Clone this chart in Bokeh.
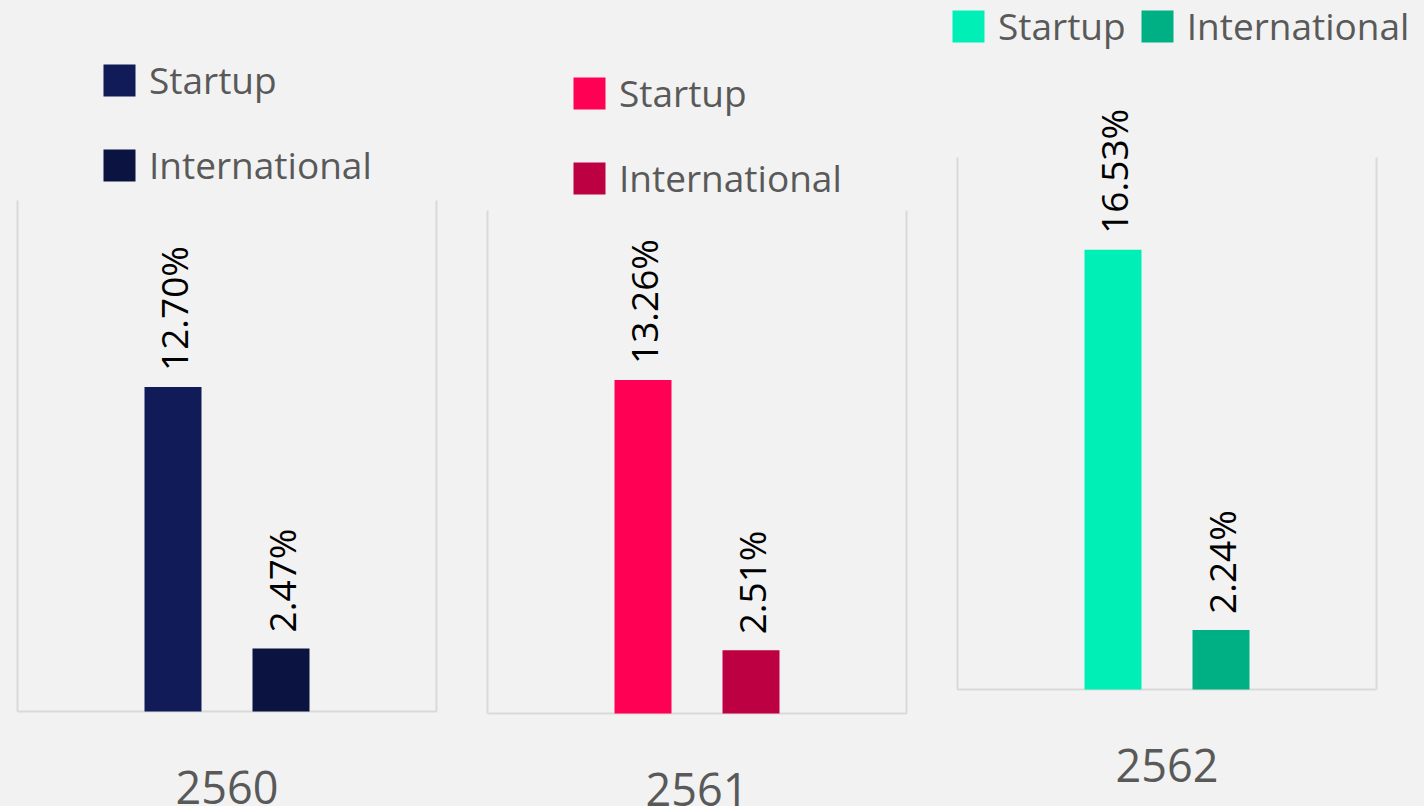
from math import pi
from bokeh.plotting import figure
from bokeh.models import ColumnDataSource, Range1d, Legend
from bokeh.core.properties import value
from bokeh.embed import file_html
from bokeh.resources import INLINE

# ---- data ----
years = ["2560", "2561", "2562"]
series = ["Startup", "International"]
startup = [12.70, 13.26, 16.53]
international = [2.47, 2.51, 2.24]
startup_colors = ["#101b57", "#ff0055", "#00efb6"]
international_colors = ["#0b1340", "#bd0041", "#00b085"]
y_max = 20  # top of each panel's value axis (%)

# ---- styling / layout (pixels) ----
BG = "#f2f2f2"
FRAME = "#d9d9d9"
FONT = "Open Sans"
W, H = 1424, 806
PAGE_X0, PAGE_Y0 = 0, 0
panel_pitch = 470                 # px between panel frames
frame_left0 = 17                  # page x of first frame's left edge
frame_w = 419
zero_y = [711, 713, 689]          # page y of each panel's baseline
frame_top = [200, 210, 157]       # page y of each panel's top (= y_max)
bar_frac = [155.5, 263.5]         # bar centers, px from frame left
bar_w = 57
legend_loc = [(99, 616), (569, 603), (948, 755)]
legend_orient = ["vertical", "vertical", "horizontal"]

unit = panel_pitch
x_start = (PAGE_X0 - frame_left0) / unit
x_end = (PAGE_X0 + W - frame_left0) / unit

p = figure(width=W, height=H, x_range=Range1d(x_start, x_end),
           output_backend="svg", toolbar_location=None)
p.min_border = 0
p.min_border_left = p.min_border_right = p.min_border_top = p.min_border_bottom = 0
p.axis.visible = False
p.grid.visible = False
p.outline_line_color = None
p.background_fill_color = BG
p.border_fill_color = BG

range_names = []
for i in range(3):
    s = (zero_y[i] - frame_top[i]) / y_max
    top = (zero_y[i] - PAGE_Y0) / s
    bot = -(PAGE_Y0 + H - zero_y[i]) / s
    if i == 0:
        p.y_range = Range1d(bot, top)
        range_names.append("default")
    else:
        name = "panel%d" % i
        p.extra_y_ranges[name] = Range1d(bot, top)
        range_names.append(name)

for i in range(3):
    rn = range_names[i]
    fw = frame_w / unit
    # frame lines (left, right, bottom)
    fsrc = ColumnDataSource(dict(xs=[[i, i], [i + fw, i + fw], [i, i + fw]],
                                 ys=[[0, y_max], [0, y_max], [0, 0]]))
    p.multi_line(xs="xs", ys="ys", source=fsrc, line_color=FRAME, line_width=2,
                 y_range_name=rn)

    src = ColumnDataSource(dict(
        x=[i + bar_frac[0] / unit, i + bar_frac[1] / unit],
        top=[startup[i], international[i]],
        label=["%.2f%%" % startup[i], "%.2f%%" % international[i]],
    ))
    r1 = p.vbar(x=[src.data["x"][0]], top=[startup[i]], width=bar_w / unit,
                fill_color=startup_colors[i], line_color=None, y_range_name=rn)
    r2 = p.vbar(x=[src.data["x"][1]], top=[international[i]], width=bar_w / unit,
                fill_color=international_colors[i], line_color=None, y_range_name=rn)
    p.text(x="x", y="top", text="label", source=src, angle=pi / 2,
           text_align="left", text_baseline="middle", y_offset=-16,
           text_font=value(FONT), text_font_size="37px", text_color="black",
           y_range_name=rn)
    # category label under the panel
    p.text(x=[i + fw / 2], y=[0], text=[years[i]], text_align="center",
           text_baseline="alphabetic", y_offset=76,
           text_font=value(FONT), text_font_size="45px", text_color="#595959",
           y_range_name=rn)

    leg = Legend(items=[(series[0], [r1]), (series[1], [r2])],
                 location=legend_loc[i], orientation=legend_orient[i])
    leg.background_fill_alpha = 0
    leg.border_line_color = None
    leg.padding = 0
    leg.margin = 0
    leg.glyph_width = 40
    leg.glyph_height = 40
    leg.label_height = 32
    leg.label_standoff = 10
    leg.spacing = 34 if legend_orient[i] == "vertical" else 11
    leg.label_text_font = FONT
    leg.label_text_font_size = "37px"
    leg.label_text_color = "#595959"
    p.add_layout(leg, "center")

html = file_html(p, INLINE)
html = html.replace("<body>", '<body style="background-color:#f2f2f2;">')
open("out.html", "w").write(html)
